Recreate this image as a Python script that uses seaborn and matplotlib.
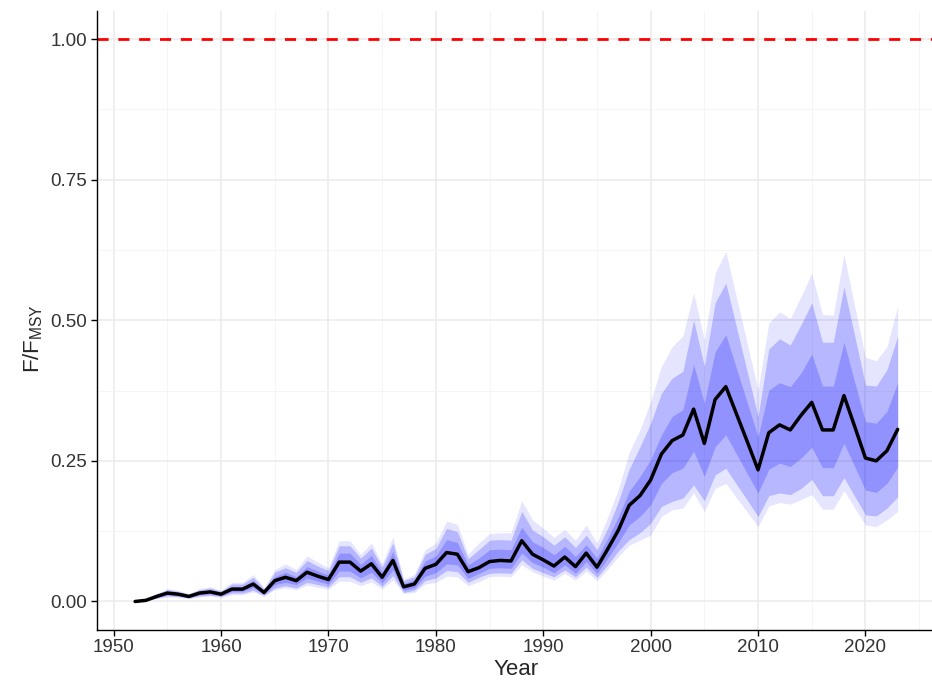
import numpy as np
import pandas as pd
import matplotlib
matplotlib.use("Agg")
import matplotlib.pyplot as plt
import seaborn as sns
from matplotlib.ticker import MultipleLocator

years = list(range(1952, 2024))

median = [0.000, 0.002, 0.009, 0.015, 0.013, 0.009, 0.015, 0.017, 0.013, 0.022,
          0.022, 0.031, 0.016, 0.037, 0.043, 0.037, 0.052, 0.045, 0.039, 0.070,
          0.070, 0.054, 0.067, 0.043, 0.073, 0.026, 0.031, 0.059, 0.066, 0.087,
          0.084, 0.053, 0.060, 0.071, 0.073, 0.072, 0.108, 0.084, 0.074, 0.063,
          0.079, 0.062, 0.086, 0.061, 0.093, 0.127, 0.171, 0.188, 0.216, 0.262,
          0.286, 0.296, 0.342, 0.281, 0.359, 0.382, 0.333, 0.284, 0.234, 0.300,
          0.314, 0.305, 0.331, 0.354, 0.305, 0.305, 0.366, 0.311, 0.255, 0.250,
          0.268, 0.306]

# outer band (lightest)
hi95 = [0.001, 0.003, 0.014, 0.023, 0.020, 0.014, 0.023, 0.026, 0.020, 0.034,
        0.034, 0.048, 0.025, 0.057, 0.067, 0.057, 0.081, 0.070, 0.060, 0.108,
        0.108, 0.084, 0.104, 0.067, 0.115, 0.040, 0.048, 0.092, 0.104, 0.143,
        0.137, 0.084, 0.104, 0.121, 0.122, 0.122, 0.179, 0.145, 0.130, 0.114,
        0.128, 0.109, 0.136, 0.104, 0.150, 0.200, 0.265, 0.305, 0.356, 0.418,
        0.453, 0.472, 0.549, 0.465, 0.584, 0.622, 0.540, 0.458, 0.376, 0.495,
        0.515, 0.503, 0.542, 0.584, 0.510, 0.509, 0.617, 0.525, 0.434, 0.428,
        0.453, 0.525]
lo95 = [0.000, 0.001, 0.005, 0.008, 0.007, 0.005, 0.008, 0.010, 0.007, 0.012,
        0.012, 0.017, 0.009, 0.021, 0.024, 0.021, 0.029, 0.025, 0.022, 0.036,
        0.036, 0.028, 0.035, 0.022, 0.038, 0.014, 0.016, 0.031, 0.034, 0.045,
        0.044, 0.028, 0.035, 0.044, 0.045, 0.044, 0.065, 0.053, 0.045, 0.038,
        0.050, 0.038, 0.054, 0.037, 0.057, 0.080, 0.100, 0.109, 0.118, 0.151,
        0.163, 0.166, 0.193, 0.160, 0.201, 0.210, 0.184, 0.159, 0.133, 0.170,
        0.176, 0.173, 0.181, 0.190, 0.164, 0.164, 0.197, 0.166, 0.136, 0.133,
        0.145, 0.160]

# middle band
hi80 = [0.001, 0.003, 0.013, 0.021, 0.018, 0.013, 0.021, 0.024, 0.018, 0.031,
        0.031, 0.043, 0.022, 0.052, 0.060, 0.052, 0.073, 0.063, 0.055, 0.099,
        0.099, 0.077, 0.095, 0.061, 0.104, 0.037, 0.044, 0.084, 0.094, 0.130,
        0.124, 0.076, 0.092, 0.109, 0.110, 0.109, 0.160, 0.127, 0.115, 0.100,
        0.115, 0.096, 0.118, 0.092, 0.130, 0.178, 0.235, 0.275, 0.317, 0.370,
        0.397, 0.409, 0.500, 0.418, 0.531, 0.566, 0.487, 0.408, 0.329, 0.449,
        0.467, 0.456, 0.492, 0.531, 0.461, 0.461, 0.559, 0.472, 0.385, 0.383,
        0.412, 0.472]
lo80 = [0.000, 0.001, 0.006, 0.010, 0.009, 0.006, 0.010, 0.011, 0.009, 0.015,
        0.015, 0.020, 0.011, 0.024, 0.028, 0.024, 0.034, 0.030, 0.026, 0.044,
        0.044, 0.034, 0.042, 0.027, 0.046, 0.016, 0.020, 0.037, 0.042, 0.055,
        0.053, 0.034, 0.043, 0.050, 0.051, 0.050, 0.074, 0.059, 0.051, 0.044,
        0.056, 0.044, 0.061, 0.043, 0.065, 0.090, 0.110, 0.122, 0.139, 0.169,
        0.178, 0.184, 0.207, 0.179, 0.225, 0.237, 0.208, 0.180, 0.151, 0.188,
        0.193, 0.190, 0.201, 0.217, 0.188, 0.188, 0.220, 0.187, 0.154, 0.152,
        0.166, 0.186]

# inner band (darkest)
hi50 = [0.000, 0.002, 0.011, 0.018, 0.016, 0.011, 0.018, 0.020, 0.016, 0.026,
        0.026, 0.037, 0.019, 0.044, 0.052, 0.044, 0.062, 0.054, 0.047, 0.086,
        0.086, 0.066, 0.082, 0.052, 0.089, 0.032, 0.038, 0.072, 0.081, 0.110,
        0.105, 0.065, 0.077, 0.092, 0.093, 0.092, 0.132, 0.106, 0.096, 0.083,
        0.098, 0.080, 0.101, 0.077, 0.112, 0.151, 0.196, 0.222, 0.252, 0.296,
        0.329, 0.341, 0.421, 0.353, 0.444, 0.474, 0.414, 0.353, 0.293, 0.376,
        0.389, 0.382, 0.406, 0.440, 0.383, 0.383, 0.461, 0.390, 0.320, 0.317,
        0.338, 0.389]
lo50 = [0.000, 0.002, 0.007, 0.012, 0.010, 0.007, 0.012, 0.014, 0.010, 0.018,
        0.018, 0.025, 0.013, 0.030, 0.034, 0.030, 0.042, 0.036, 0.031, 0.054,
        0.054, 0.042, 0.052, 0.033, 0.056, 0.020, 0.024, 0.045, 0.051, 0.067,
        0.065, 0.041, 0.050, 0.059, 0.060, 0.059, 0.086, 0.069, 0.061, 0.051,
        0.065, 0.050, 0.071, 0.050, 0.077, 0.105, 0.136, 0.151, 0.172, 0.210,
        0.229, 0.237, 0.267, 0.222, 0.275, 0.296, 0.262, 0.227, 0.193, 0.235,
        0.246, 0.240, 0.255, 0.274, 0.238, 0.238, 0.281, 0.240, 0.198, 0.194,
        0.210, 0.239]

df = pd.DataFrame({"Year": years, "median": median,
                   "hi95": hi95, "lo95": lo95, "hi80": hi80, "lo80": lo80,
                   "hi50": hi50, "lo50": lo50})

sns.set_style("whitegrid")
plt.rcParams['font.family'] = ['Liberation Sans', 'DejaVu Sans']

fig = plt.figure(figsize=(9.32, 6.92), dpi=100)
ax = fig.add_axes([97 / 932, 62.4 / 692, 838.8 / 932, 618.7 / 692])

ax.fill_between(df["Year"], df["lo95"], df["hi95"], color="blue", alpha=0.1, linewidth=0)
ax.fill_between(df["Year"], df["lo80"], df["hi80"], color="blue", alpha=0.2, linewidth=0)
ax.fill_between(df["Year"], df["lo50"], df["hi50"], color="blue", alpha=0.2, linewidth=0)
sns.lineplot(data=df, x="Year", y="median", color="black", linewidth=2.5, ax=ax)
ax.axhline(1.0, color="red", linestyle=(0, (4, 3.5)), linewidth=2.0)

ax.set_xlim(1948.45, 2026.55)
ax.set_ylim(-0.05, 1.05)
ax.xaxis.set_major_locator(MultipleLocator(10))
ax.xaxis.set_minor_locator(MultipleLocator(5))
ax.yaxis.set_major_locator(MultipleLocator(0.25))
ax.yaxis.set_minor_locator(MultipleLocator(0.125))
ax.yaxis.set_major_formatter(matplotlib.ticker.FormatStrFormatter('%.2f'))

ax.grid(which="major", color="#EBEBEB", linewidth=1.1)
ax.grid(which="minor", color="#F4F4F4", linewidth=0.6)
ax.set_axisbelow(True)

for s in ["top", "right"]:
    ax.spines[s].set_visible(False)
for s in ["left", "bottom"]:
    ax.spines[s].set_visible(True)
    ax.spines[s].set_color("black")
    ax.spines[s].set_linewidth(1.0)

ax.tick_params(axis="both", which="major", direction="out", length=4, width=1,
               color="black", labelsize=13.5, labelcolor="#333333", bottom=True, left=True,
               pad=3)
ax.tick_params(axis="both", which="minor", length=0)

ax.set_xlabel("Year", fontsize=16, labelpad=2)
ax.set_ylabel(r"F/F$_{\mathregular{MSY}}$", fontsize=16, labelpad=5)
ax.yaxis.set_label_coords(-0.062, 0.47)

fig.savefig("out.png", dpi=100)
